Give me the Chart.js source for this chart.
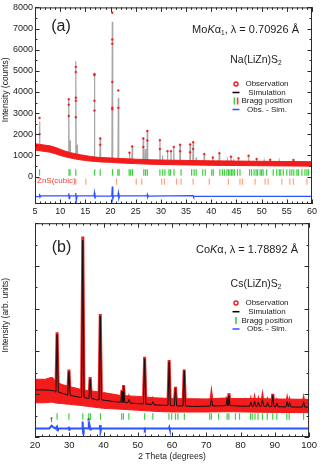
<!DOCTYPE html>
<html>
<head>
<meta charset="utf-8">
<script src="https://cdn.jsdelivr.net/npm/chart.js@4.4.0/dist/chart.umd.min.js"></script>
<style>
html, body { margin: 0; padding: 0; background: #fff; }
#wrap { position: relative; width: 320px; height: 465px; overflow: hidden; }
canvas { position: absolute; left: 0; }
#ca { top: 0; }
#cb { top: 218px; }
</style>
</head>
<body>
<div id="wrap">
  <canvas id="ca" width="320" height="218"></canvas>
  <canvas id="cb" width="320" height="247"></canvas>
</div>
<script>
// ---------- panel (a) : Na(LiZn)S2, Mo Ka1 ----------
const xTicksA = [5, 10, 15, 20, 25, 30, 35, 40, 45, 50, 55, 60];
const yTicksA = [0, 1000, 2000, 3000, 4000, 5000, 6000, 7000, 8000];

// calculated background [2theta, counts]
const simBgA = [[5, 1400], [6.5, 1360], [7.5, 1330], [8.5, 1270], [9.5, 1190], [10.5, 1110], [11.2, 1050],
  [12.5, 990], [14, 910], [15, 870], [16, 840], [18.5, 790], [19.5, 775], [22.5, 745], [25, 710], [28, 680],
  [30, 670], [35, 650], [40, 630], [45, 620], [50, 610], [55, 600], [60, 590]];
// peaks [2theta, base, calc top]
const peaksA = [[5.9, 1370, 2600], [11.7, 1030, 3680], [11.95, 1020, 1700], [13.1, 960, 5450], [13.35, 950, 1500],
  [16.8, 820, 4900], [17.95, 800, 1840], [20.35, 765, 7320], [21.55, 755, 3730], [23.75, 725, 1150],
  [24.3, 720, 1450], [26.5, 695, 1840], [26.9, 690, 1300], [27.3, 688, 2180], [29.8, 672, 1750],
  [30.3, 668, 1000], [31.3, 665, 1215], [32.0, 662, 1215], [32.55, 660, 1420], [33.8, 655, 1510],
  [35.8, 648, 1540], [36.4, 646, 1650], [37.0, 644, 900], [38.6, 640, 1080], [40.3, 630, 910],
  [41.6, 628, 1110], [43.2, 625, 780], [43.9, 623, 950], [44.4, 622, 820], [45.4, 620, 870],
  [47.4, 617, 990], [49.0, 614, 840], [50.5, 610, 740], [51.7, 608, 800], [53.5, 605, 730],
  [56.3, 598, 790], [57.8, 595, 720], [59.0, 592, 700]];
// observed points sitting on the peaks
const obsDotsA = [[5.9, 2770], [5.9, 2000], [11.7, 3650], [11.7, 3400], [11.7, 2860], [13.1, 5180], [13.1, 4940],
  [13.1, 3730], [13.1, 3580], [13.1, 2800], [16.8, 4840], [16.8, 4800], [16.8, 3580], [16.8, 3120],
  [17.95, 1800], [17.95, 1500], [20.35, 7750], [20.35, 6480], [20.35, 6280], [20.35, 4470], [20.35, 3250],
  [20.35, 3180], [21.55, 4070], [21.55, 3250], [23.75, 1130], [24.3, 1420], [26.5, 1800], [26.5, 1400],
  [27.3, 2150], [27.3, 1700], [29.8, 1720], [29.8, 1300], [31.3, 1200], [32.0, 1200], [32.55, 1400],
  [33.8, 1500], [33.8, 1200], [35.8, 1520], [35.8, 1150], [36.4, 1620], [36.4, 1300], [38.6, 1060],
  [40.3, 900], [41.6, 1100], [43.9, 940], [45.4, 860], [47.4, 980], [49.0, 830], [51.7, 790], [56.3, 780]];
// observed band (upper / lower edge of the scatter)
const obsHiA = [[5, 1550], [6.5, 1500], [8, 1450], [9, 1380], [10, 1290], [11, 1200], [12, 1130], [13, 1080],
  [14, 1030], [15, 990], [16, 950], [17, 920], [18, 900], [20, 880], [22, 850], [25, 820], [28, 790],
  [30, 780], [35, 760], [40, 740], [45, 730], [50, 720], [55, 710], [60, 700]];
const obsLoA = [[5, 1250], [6.5, 1200], [8, 1150], [9, 1080], [10, 1000], [11, 930], [12, 880], [13, 830],
  [14, 790], [15, 760], [16, 730], [17, 710], [18, 690], [20, 670], [22, 640], [25, 610], [28, 580],
  [30, 570], [35, 550], [40, 530], [45, 520], [50, 510], [55, 500], [60, 490]];
const diffA = [[5, -960], [5.8, -940], [5.9, -820], [6.0, -980], [6.2, -920], [11.6, -920], [11.7, -800],
  [11.8, -1040], [11.9, -920], [13.0, -920], [13.1, -780], [13.2, -1150], [13.35, -920], [16.7, -920],
  [16.8, -770], [16.9, -1050], [17.0, -920], [20.25, -930], [20.35, -470], [20.45, -1060], [20.6, -920],
  [21.45, -920], [21.55, -780], [21.65, -1030], [21.8, -920], [27.2, -920], [27.3, -850], [27.4, -980],
  [27.5, -925], [36.4, -900], [36.5, -960], [36.6, -930], [60, -935]];
const braggA = [5.9, 11.75, 11.95, 13.1, 16.85, 17.95, 20.4, 21.45, 21.7, 23.7, 24.0, 24.35, 26.6, 26.95, 27.3,
  29.8, 30.35, 30.8, 31.6, 31.9, 32.6, 34.0, 36.1, 36.6, 37.0, 38.3, 38.8, 40.1, 40.4, 41.7, 42.2, 42.6, 43.1,
  43.4, 43.7, 44.0, 44.3, 44.6, 45.2, 45.7, 47.6, 48.0, 48.5, 48.9, 49.2, 49.7, 50.0, 50.3, 51.0, 52.3, 53.0,
  53.5, 53.8, 54.3, 55.0, 55.6, 56.0, 56.4, 57.0, 57.3, 58.0, 58.6, 59.0, 59.3];
const braggZnS = [13.1, 15.1, 21.2, 25.1, 26.2, 30.15, 30.7, 33.1, 34.0, 36.4, 39.6, 43.4, 45.7, 46.2, 48.7,
  50.7, 51.3, 54.0, 55.6, 56.3, 59.0];

// ---------- panel (b) : Cs(LiZn)S2, Co Ka ----------
const xTicksB = [20, 30, 40, 50, 60, 70, 80, 90, 100];

const simBgB = [[20, 22.1], [22, 22.0], [24, 21.9], [25.5, 21.6], [28, 20.4], [31, 19.2], [33, 18.6], [35, 18.2],
  [38, 17.4], [42, 16.8], [44, 16.4], [48.5, 15.8], [50, 15.6], [55, 15.0], [58, 14.8], [66, 14.3], [70, 14.4],
  [74, 14.6], [80, 14.4], [82, 14.4], [88.5, 14.2], [92, 14.1], [96, 14.0], [100, 14.0]];
// peaks [2theta, base, calc top, obs top]
const peaksB = [[26.45, 21.0, 48.0, 49.0], [29.9, 19.6, 30.5, 31.5], [33.95, 18.5, 92.0, 93.8],
  [36.1, 18.1, 27.0, 28.0], [39.05, 17.4, 56.5, 57.5], [45.4, 16.3, 21.5, 22.0], [45.85, 16.2, 23.8, 24.3],
  [47.4, 16.0, 17.5, 18.0], [52.0, 15.5, 36.5, 37.5], [54.4, 15.2, 16.5, 17.0], [59.15, 14.7, 35.0, 36.0],
  [61.0, 14.6, 22.8, 23.5], [63.55, 14.5, 31.0, 31.5], [71.5, 14.5, 18.0, 19.0], [76.1, 14.7, 18.0, 18.8],
  [76.6, 14.7, 19.5, 20.5], [83.0, 14.4, 16.3, 16.8], [84.1, 14.4, 16.8, 17.3], [85.2, 14.4, 16.3, 16.8],
  [86.4, 14.4, 17.5, 18.0], [87.9, 14.3, 16.2, 16.5], [89.4, 14.2, 19.5, 20.2], [90.6, 14.2, 15.8, 16.2],
  [93.6, 14.1, 16.5, 17.0], [94.3, 14.1, 16.2, 16.5], [98.4, 14.0, 16.5, 17.0]];
const obsHiB = [[20, 27], [23, 27], [24.5, 27.8], [25.2, 27.8], [26, 25.8], [28, 24.5], [30, 23.6], [33, 22.5],
  [35, 21.8], [40, 20.8], [45, 19.4], [50, 19], [55, 18.3], [60, 18], [70, 17.8], [75, 18.2], [78, 18],
  [85, 18], [90, 17.8], [100, 17.6]];
const obsLoB = [[20, 16], [23, 16], [24.5, 16.3], [25.2, 16.3], [26, 15.9], [28, 15.6], [30, 15.3], [33, 14.8],
  [35, 14.4], [40, 13.4], [45, 13], [50, 12.5], [55, 12], [60, 11.7], [70, 11.7], [75, 11.8], [78, 11.8],
  [85, 11.6], [90, 11.5], [100, 11.4]];
const diffB = [[20, 4.0], [24.2, 4.0], [24.6, 4.8], [24.9, 5.3], [25.3, 4.6], [26.0, 4.0], [26.4, 4.8],
  [26.55, 3.2], [26.7, 4.0], [29.8, 4.0], [29.9, 4.8], [30.0, 3.4], [30.1, 4.0], [33.8, 4.0], [33.9, 7.2],
  [34.05, 1.6], [34.2, 4.2], [35.5, 4.0], [35.7, 5.2], [35.9, 4.0], [36.05, 4.6], [36.2, 3.5], [36.3, 4.0],
  [38.95, 4.0], [39.0, 5.6], [39.15, 2.9], [39.3, 4.0], [51.9, 4.0], [52.0, 4.6], [52.1, 3.5], [52.2, 4.0],
  [59.1, 4.0], [59.2, 4.5], [59.3, 3.6], [59.4, 4.0], [100, 4.0]];
const braggB = [26.45, 29.9, 33.95, 35.7, 36.2, 39.1, 45.3, 45.8, 47.4, 52.0, 54.4, 59.1, 59.9, 61.0, 61.7,
  63.6, 71.0, 71.5, 73.6, 76.1, 76.6, 78.5, 79.7, 82.9, 83.4, 84.2, 85.1, 86.4, 87.8, 89.4, 90.6, 93.5, 94.2, 98.4];

// ---------- helpers ----------
const FF = "'Liberation Sans', Arial, sans-serif";
const F = (s, st) => (st ? st + ' ' : '') + s + 'px ' + FF;
const RED = '#f21c1c', GREEN = '#3fcf3f', ORANGE = '#ffa383', BLUE = '#2f52ff';

Chart.defaults.font.family = FF;
Chart.defaults.color = '#222';

const xy = p => ({ x: p[0], y: p[1] });

// background + a narrow triangle for each peak, col picks calc or obs top
function profile(bg, peaks, col, hw) {
  const pts = bg.map(xy);
  peaks.forEach(p => {
    pts.push({ x: p[0] - hw, y: p[1] }, { x: p[0], y: p[col] }, { x: p[0] + hw, y: p[1] });
  });
  return pts.sort((a, b) => a.x - b.x);
}

function rich(ctx, parts, x, y, align) {
  let w = 0;
  parts.forEach(p => { ctx.font = p.f; w += ctx.measureText(p.t).width; });
  let cx = align === 'right' ? x - w : (align === 'center' ? x - w / 2 : x);
  parts.forEach(p => {
    ctx.font = p.f;
    ctx.fillText(p.t, cx, y + (p.dy || 0));
    cx += ctx.measureText(p.t).width;
  });
}

// box round the plot with inward ticks on all four sides
const framePlugin = {
  id: 'frame',
  afterDatasetsDraw(chart, args, o) {
    const { ctx, chartArea: a } = chart;
    const sx = chart.scales.x, sy = chart.scales.y;
    ctx.save();
    ctx.strokeStyle = '#2a2a2a';
    ctx.lineWidth = 1;
    ctx.strokeRect(a.left + 0.5, a.top + 0.5, a.right - a.left - 1, a.bottom - a.top - 1);
    ctx.beginPath();
    const marks = (lo, hi, step, len, isX) => {
      for (let v = lo; v <= hi + 1e-9; v += step) {
        if (isX) {
          const px = Math.round(sx.getPixelForValue(v)) + 0.5;
          ctx.moveTo(px, a.bottom); ctx.lineTo(px, a.bottom - len);
          ctx.moveTo(px, a.top); ctx.lineTo(px, a.top + len);
        } else {
          const py = Math.round(sy.getPixelForValue(v)) + 0.5;
          ctx.moveTo(a.left, py); ctx.lineTo(a.left + len, py);
          ctx.moveTo(a.right, py); ctx.lineTo(a.right - len, py);
        }
      }
    };
    marks(o.x[0], o.x[1], o.x[2], 4.5, true);
    marks(o.x[0], o.x[1], o.x[3], 2.5, true);
    marks(o.y[0], o.y[1], o.y[2], 4.5, false);
    marks(o.y[0], o.y[1], o.y[3], 2.5, false);
    ctx.stroke();
    ctx.restore();
  }
};
Chart.register(framePlugin);

function legend(ctx, x, tx, rows, twoPhases) {
  ctx.save();
  ctx.textAlign = 'center';
  ctx.textBaseline = 'middle';
  ctx.fillStyle = '#222';
  ctx.font = F(8);
  ['Observation', 'Simulation', 'Bragg position', 'Obs. - Sim.'].forEach((t, i) => ctx.fillText(t, tx, rows[i]));
  // markers
  ctx.strokeStyle = RED; ctx.lineWidth = 1.4; ctx.fillStyle = '#fff';
  ctx.beginPath(); ctx.arc(x, rows[0], 2, 0, Math.PI * 2); ctx.fill(); ctx.stroke();
  ctx.strokeStyle = '#000'; ctx.lineWidth = 1.5;
  ctx.beginPath(); ctx.moveTo(x - 3.5, rows[1]); ctx.lineTo(x + 3.5, rows[1]); ctx.stroke();
  ctx.lineWidth = 1.6;
  if (twoPhases) {
    ctx.strokeStyle = GREEN; ctx.beginPath(); ctx.moveTo(x - 1.6, rows[2] - 3.5); ctx.lineTo(x - 1.6, rows[2] + 3.5); ctx.stroke();
    ctx.strokeStyle = '#ff3b2b'; ctx.beginPath(); ctx.moveTo(x + 1.6, rows[2] - 3.5); ctx.lineTo(x + 1.6, rows[2] + 3.5); ctx.stroke();
  } else {
    ctx.strokeStyle = GREEN; ctx.beginPath(); ctx.moveTo(x, rows[2] - 3.5); ctx.lineTo(x, rows[2] + 3.5); ctx.stroke();
  }
  ctx.strokeStyle = BLUE; ctx.lineWidth = 1.5;
  ctx.beginPath(); ctx.moveTo(x - 3.5, rows[3]); ctx.lineTo(x + 3.5, rows[3]); ctx.stroke();
  ctx.restore();
}

function yTitle(ctx, text, x, y) {
  ctx.save();
  ctx.translate(x, y);
  ctx.rotate(-Math.PI / 2);
  ctx.textAlign = 'center';
  ctx.textBaseline = 'middle';
  ctx.fillStyle = '#222';
  ctx.font = F(8.5);
  ctx.fillText(text, 0, 0);
  ctx.restore();
}

const tickMarkSet = (data, y, color) => ({
  data: data.map(v => ({ x: v, y: y })),
  showLine: false,
  pointStyle: 'line',
  rotation: 90,
  pointRadius: 3.2,
  pointBorderColor: color,
  pointBorderWidth: 1.2,
  order: 2
});

// ---------- chart (a) ----------
new Chart(document.getElementById('ca'), {
  type: 'line',
  data: {
    datasets: [
      { data: obsDotsA.map(xy), showLine: false, pointRadius: 1.0, pointBackgroundColor: RED,
        pointBorderColor: RED, pointBorderWidth: 0.4, order: 1 },
      { data: obsHiA.map(xy), pointRadius: 0, borderColor: RED, borderWidth: 1, backgroundColor: RED, fill: '+1', order: 3 },
      { data: obsLoA.map(xy), pointRadius: 0, borderColor: RED, borderWidth: 1, fill: false, order: 3 },
      { data: profile(simBgA, peaksA, 2, 0.08), pointRadius: 0, borderColor: '#a6a6a6', borderWidth: 1.2, fill: false, order: 4 },
      tickMarkSet(braggA, 190, GREEN),
      tickMarkSet(braggZnS, -240, ORANGE),
      { data: diffA.map(xy), pointRadius: 0, borderColor: BLUE, borderWidth: 1.3, fill: false, order: 1 }
    ]
  },
  options: {
    responsive: false,
    devicePixelRatio: 1,
    animation: false,
    layout: { padding: { top: 5, right: 8, left: 0, bottom: 0 } },
    plugins: {
      legend: { display: false },
      tooltip: { enabled: false },
      frame: { x: [5, 60, 5, 1], y: [0, 8000, 1000, 500] }
    },
    scales: {
      x: {
        type: 'linear', min: 5, max: 60,
        afterFit: s => { s.height = 14; },
        afterBuildTicks: s => { s.ticks = xTicksA.map(v => ({ value: v })); },
        grid: { display: false, drawTicks: false },
        border: { display: false },
        ticks: { font: { size: 9 }, padding: 2, maxRotation: 0, autoSkip: false, callback: v => String(v) }
      },
      y: {
        min: -1300, max: 8000,
        afterFit: s => { s.width = 35; },
        afterBuildTicks: s => { s.ticks = yTicksA.map(v => ({ value: v })); },
        grid: { display: false, drawTicks: false },
        border: { display: false },
        ticks: { font: { size: 9 }, padding: 2, autoSkip: false, callback: v => String(v) }
      }
    }
  },
  plugins: [{
    id: 'notesA',
    afterDraw(chart) {
      const ctx = chart.ctx;
      ctx.save();
      ctx.fillStyle = '#222';
      ctx.textBaseline = 'middle';
      ctx.textAlign = 'left';
      rich(ctx, [{ t: '(a)', f: F(16) }], 61, 27, 'center');
      rich(ctx, [{ t: 'Mo', f: F(11) }, { t: 'K', f: F(11, 'italic') }, { t: 'α', f: F(11) },
        { t: '1', f: F(6.5), dy: 3 }, { t: ', λ = 0.70926 Å', f: F(11) }], 299, 30, 'right');
      rich(ctx, [{ t: 'Na(LiZn)S', f: F(10.5) }, { t: '2', f: F(6.5), dy: 3 }], 256, 60, 'center');
      ctx.fillStyle = '#ff3b2b';
      rich(ctx, [{ t: 'ZnS(cubic)', f: F(8) }], 37, 181, 'left');
      ctx.restore();
      legend(ctx, 236, 267, [84, 92.5, 101, 109.5], true);
      yTitle(ctx, 'Intensity (counts)', 5.5, chart.scales.y.getPixelForValue(4100));
    }
  }]
});

// ---------- chart (b) ----------
new Chart(document.getElementById('cb'), {
  type: 'line',
  data: {
    datasets: [
      { data: obsHiB.map(xy), pointRadius: 0, borderColor: RED, borderWidth: 1, backgroundColor: RED, fill: '+1', order: 5 },
      { data: obsLoB.map(xy), pointRadius: 0, borderColor: RED, borderWidth: 1, fill: false, order: 5 },
      { data: profile(simBgB, peaksB, 3, 0.35), pointRadius: 0, borderColor: RED, borderWidth: 3, fill: false, order: 4 },
      { data: profile(simBgB, peaksB, 2, 0.35), pointRadius: 0, borderColor: '#111', borderWidth: 1, fill: false, order: 3 },
      tickMarkSet(braggB, 9.6, GREEN),
      { data: diffB.map(xy), pointRadius: 0, borderColor: BLUE, borderWidth: 2, fill: false, order: 1 }
    ]
  },
  options: {
    responsive: false,
    devicePixelRatio: 1,
    animation: false,
    layout: { padding: { top: 3, right: 8, left: 0, bottom: 0 } },
    plugins: {
      legend: { display: false },
      tooltip: { enabled: false },
      frame: { x: [20, 100, 10, 2], y: [0, 100, 20, 10] }
    },
    scales: {
      x: {
        type: 'linear', min: 20, max: 100,
        afterFit: s => { s.height = 28; },
        afterBuildTicks: s => { s.ticks = xTicksB.map(v => ({ value: v })); },
        grid: { display: false, drawTicks: false },
        border: { display: false },
        ticks: { font: { size: 9.5 }, padding: 3, maxRotation: 0, autoSkip: false, callback: v => String(v) },
        title: { display: true, text: '2 Theta (degrees)', font: { size: 8.5 }, color: '#222', padding: { top: 0, bottom: 3 } }
      },
      y: {
        min: 0, max: 100,
        afterFit: s => { s.width = 35; },
        grid: { display: false, drawTicks: false },
        border: { display: false },
        ticks: { display: false }
      }
    }
  },
  plugins: [{
    id: 'notesB',
    afterDraw(chart) {
      const ctx = chart.ctx;
      const sx = chart.scales.x, sy = chart.scales.y;
      ctx.save();
      ctx.fillStyle = '#222';
      ctx.textBaseline = 'middle';
      rich(ctx, [{ t: '(b)', f: F(16) }], 61.5, 30, 'center');
      rich(ctx, [{ t: 'Co', f: F(11) }, { t: 'K', f: F(11, 'italic') }, { t: 'α, λ = 1.78892 Å', f: F(11) }], 298, 32, 'right');
      rich(ctx, [{ t: 'Cs(LiZn)S', f: F(10.5) }, { t: '2', f: F(6.5), dy: 3 }], 256, 66, 'center');
      ctx.fillStyle = '#333';
      rich(ctx, [{ t: 'f', f: F(8) }], sx.getPixelForValue(24.8), sy.getPixelForValue(8), 'center');
      rich(ctx, [{ t: '*', f: F(8) }], sx.getPixelForValue(35.6), sy.getPixelForValue(7.5), 'center');
      ctx.restore();
      legend(ctx, 236, 267, [85, 93.7, 102.4, 111], false);
      yTitle(ctx, 'Intensity (arb. units)', 5.5, sy.getPixelForValue(57));
    }
  }]
});
</script>
</body>
</html>
